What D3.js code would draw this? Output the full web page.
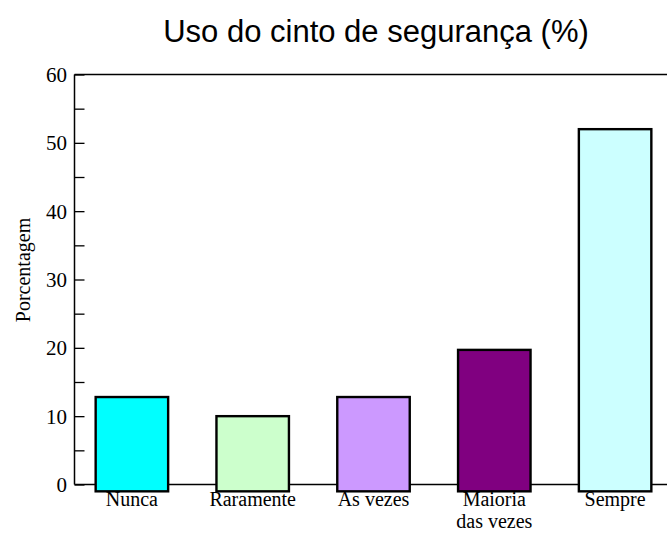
<!DOCTYPE html>
<html>
<head>
<meta charset="utf-8">
<script src="https://cdn.jsdelivr.net/npm/d3@7"></script>
<style>
  html, body { margin: 0; padding: 0; background: #fff; }
  svg { display: block; }
</style>
</head>
<body>
<svg id="chart" width="667" height="533"></svg>
<script>
// ---- data ----
const title = "Uso do cinto de segurança (%)";
const yLabel = "Porcentagem";
const categories = ["Nunca", "Raramente", "Às vezes", "Maioria das vezes", "Sempre"];
const categoryLines = [["Nunca"], ["Raramente"], ["Às vezes"], ["Maioria", "das vezes"], ["Sempre"]];
const values = [12.8, 10.0, 12.8, 19.7, 52.0];
const barColors = ["#00FFFF", "#CCFFCC", "#CC99FF", "#800080", "#CCFFFF"];
const yTicks = [0, 10, 20, 30, 40, 50, 60];
const yMinorTicks = [5, 15, 25, 35, 45, 55];

// ---- layout ----
const plot = { left: 74.5, right: 667, top: 74.5, bottom: 484.5 };

const svg = d3.select("#chart");

const x = d3.scaleBand()
  .domain(categories)
  .range([71.5, 675.5])
  .paddingInner(0.4)
  .paddingOuter(0.2);

const y = d3.scaleLinear()
  .domain([0, 60])
  .range([plot.bottom, plot.top]);

// title
svg.append("text")
  .attr("x", 376)
  .attr("y", 42)
  .attr("text-anchor", "middle")
  .attr("font-family", "'Liberation Sans', Arial, sans-serif")
  .attr("font-size", 31)
  .attr("fill", "#000")
  .text(title);

// y label
svg.append("text")
  .attr("transform", "translate(30, 270) rotate(-90)")
  .attr("text-anchor", "middle")
  .attr("font-family", "'Liberation Serif', 'Times New Roman', serif")
  .attr("font-size", 20)
  .attr("fill", "#000")
  .text(yLabel);

// frame: top line and bottom axis line
svg.append("line")
  .attr("x1", plot.left).attr("x2", plot.right)
  .attr("y1", plot.top).attr("y2", plot.top)
  .attr("stroke", "#000").attr("stroke-width", 1.5);
svg.append("line")
  .attr("x1", plot.left).attr("x2", plot.right)
  .attr("y1", plot.bottom).attr("y2", plot.bottom)
  .attr("stroke", "#000").attr("stroke-width", 1.5);

// y axis (ticks inward)
const gy = svg.append("g")
  .attr("transform", `translate(${plot.left},0)`)
  .call(d3.axisRight(y).tickValues(yTicks).tickSize(10).tickFormat(""));
gy.select(".domain").attr("stroke", "#000").attr("stroke-width", 1.5).attr("d", `M0,${plot.top}V${plot.bottom}`);
gy.selectAll(".tick line").attr("stroke", "#000").attr("stroke-width", 1.3);

const gyMinor = svg.append("g")
  .attr("transform", `translate(${plot.left},0)`)
  .call(d3.axisRight(y).tickValues(yMinorTicks).tickSize(10).tickFormat(""));
gyMinor.select(".domain").remove();
gyMinor.selectAll(".tick line").attr("stroke", "#000").attr("stroke-width", 1.3);

// y tick labels
svg.append("g").selectAll("text")
  .data(yTicks)
  .join("text")
  .attr("x", 67)
  .attr("y", d => y(d))
  .attr("dy", "0.35em")
  .attr("text-anchor", "end")
  .attr("font-family", "'Liberation Serif', 'Times New Roman', serif")
  .attr("font-size", 21)
  .attr("fill", "#000")
  .text(d => d);

// category labels (drawn before bars so bars overlap top of labels like the reference)
const labelG = svg.append("g");
categories.forEach((c, i) => {
  const cx = x(c) + x.bandwidth() / 2;
  const t = labelG.append("text")
    .attr("x", cx)
    .attr("y", 506)
    .attr("text-anchor", "middle")
    .attr("font-family", "'Liberation Serif', 'Times New Roman', serif")
    .attr("font-size", 20)
    .attr("fill", "#000");
  categoryLines[i].forEach((line, j) => {
    t.append("tspan")
      .attr("x", cx)
      .attr("dy", j === 0 ? 0 : 22)
      .text(line);
  });
});

// bars
svg.append("g").selectAll("rect")
  .data(values)
  .join("rect")
  .attr("x", (d, i) => x(categories[i]))
  .attr("width", x.bandwidth())
  .attr("y", d => y(d))
  .attr("height", d => y(-1) - y(d))
  .attr("fill", (d, i) => barColors[i])
  .attr("stroke", "#000")
  .attr("stroke-width", 2.4);
</script>
</body>
</html>
